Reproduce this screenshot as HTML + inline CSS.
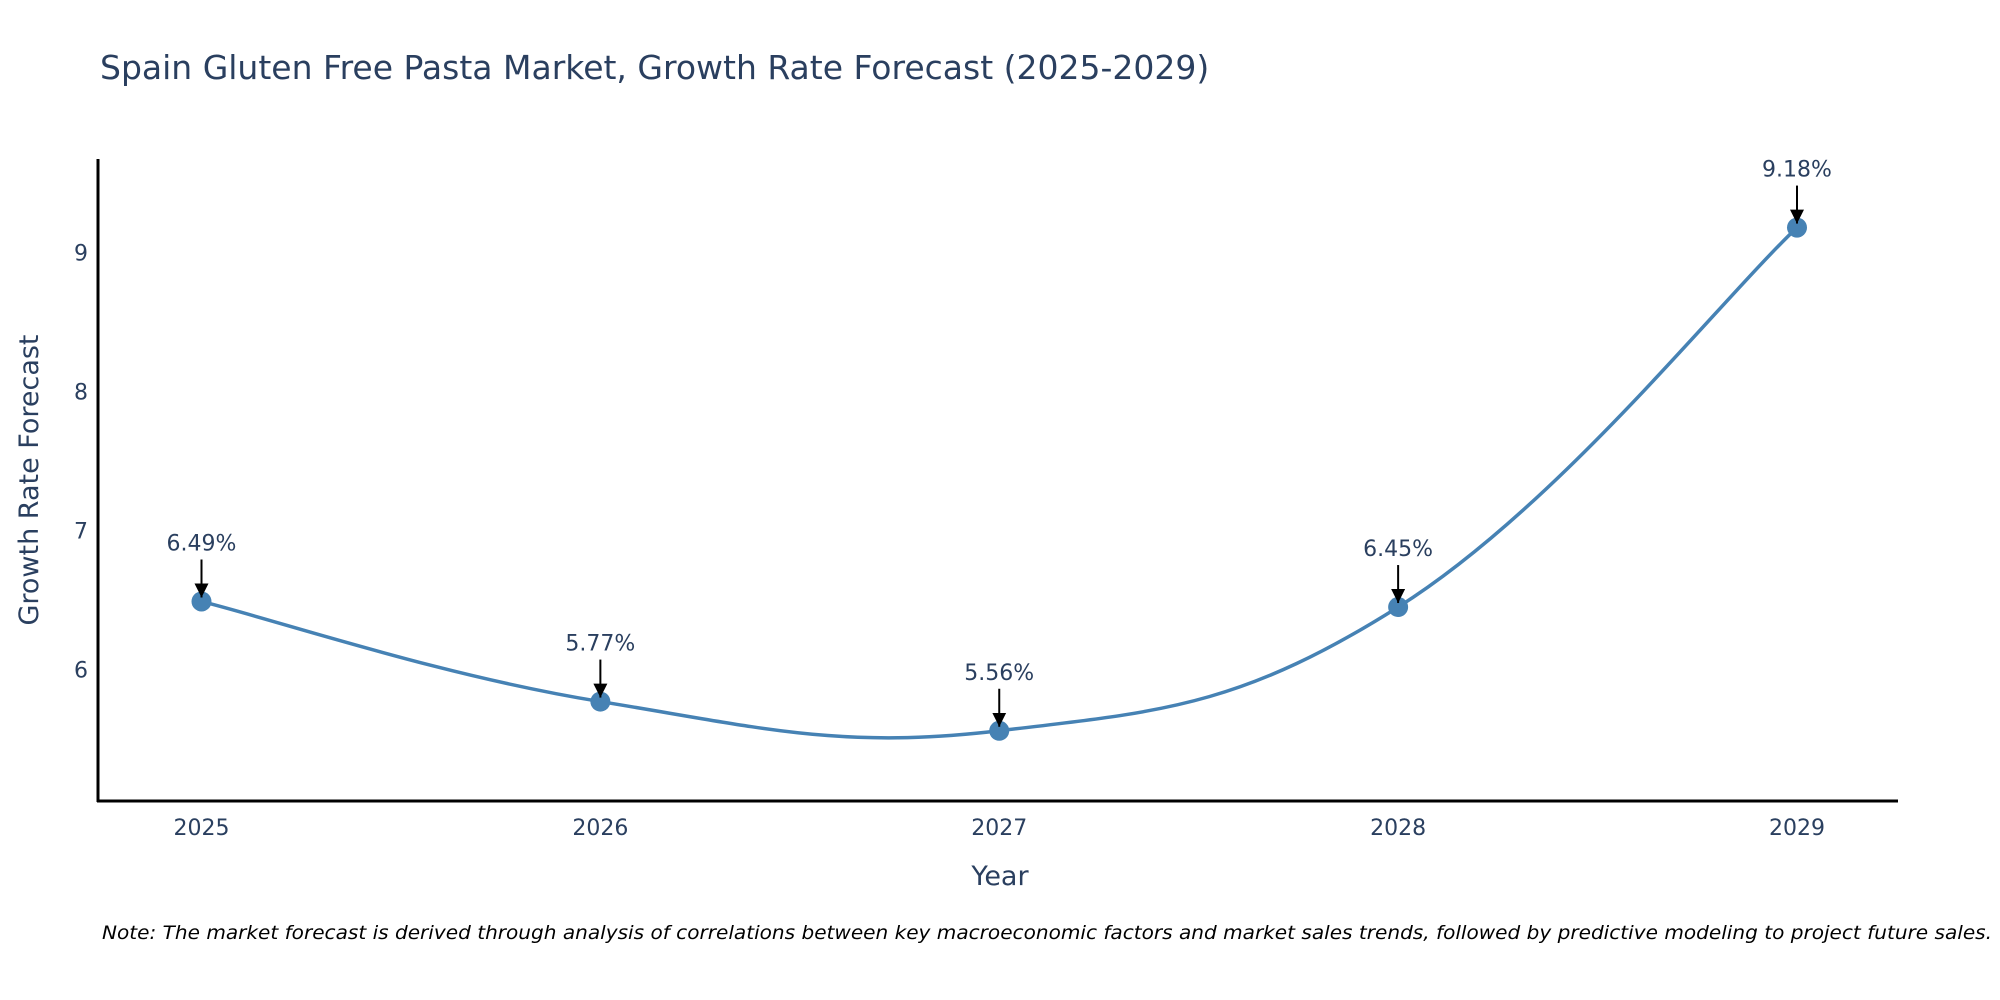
<!DOCTYPE html>
<html><head><meta charset="utf-8"><style>
html,body{margin:0;padding:0;background:#fff;}
svg{display:block;font-family:"DejaVu Sans","Liberation Sans",sans-serif;}
</style></head><body>
<svg id="chart" width="2000" height="1000" viewBox="0 0 2000 1000" xmlns="http://www.w3.org/2000/svg">
<defs><marker id="ah" markerWidth="14" markerHeight="14" refX="14" refY="7" orient="auto" markerUnits="userSpaceOnUse" viewBox="0 0 14 14"><path d="M0,0 L14,7 L0,14 z" fill="#000"/></marker></defs>
<text x="100" y="79" font-size="33" fill="#2a3f5f">Spain Gluten Free Pasta Market, Growth Rate Forecast (2025-2029)</text>
<g id="plot"></g>
<line x1="98" y1="159" x2="98" y2="802" stroke="#000" stroke-width="3"/>
<line x1="97" y1="801" x2="1898" y2="801" stroke="#000" stroke-width="3"/>
<text transform="translate(38,480) rotate(-90)" text-anchor="middle" font-size="27" fill="#2a3f5f">Growth Rate Forecast</text>
<text x="1000" y="885" text-anchor="middle" font-size="27" fill="#2a3f5f">Year</text>
<text x="1992" y="939" text-anchor="end" font-size="19" font-style="italic" fill="#000" textLength="1890" lengthAdjust="spacingAndGlyphs">Note: The market forecast is derived through analysis of correlations between key macroeconomic factors and market sales trends, followed by predictive modeling to project future sales.</text>
</svg>
<script>
const years = [2025, 2026, 2027, 2028, 2029];
const growth = [6.49, 5.77, 5.56, 6.45, 9.18];
const labels = ["6.49%", "5.77%", "5.56%", "6.45%", "9.18%"];
const yTicks = [6, 7, 8, 9];

const NS = "http://www.w3.org/2000/svg";
const g = document.getElementById('plot');
function xs(v){ return 201.5 + (v - 2025) * (1797 - 201.5) / 4; }
function ys(v){ return 669.6 - (v - 6) * 139; }
function mk(tag, attrs){ const e = document.createElementNS(NS, tag); for (const k in attrs) e.setAttribute(k, attrs[k]); g.appendChild(e); return e; }

yTicks.forEach(t => {
  const e = mk('text', {x: 88, y: ys(t) + 8, 'text-anchor': 'end', 'font-size': 22, fill: '#2a3f5f'});
  
  
  e.textContent = t;
});
years.forEach(yr => {
  const e = mk('text', {x: xs(yr), y: 835, 'text-anchor': 'middle', 'font-size': 22, fill: '#2a3f5f'});
  
  
  e.textContent = yr;
});

const pts = years.map((yr, i) => [xs(yr), ys(growth[i])]);
let d = `M${pts[0][0]},${pts[0][1]}`;
for (let i = 0; i < pts.length - 1; i++) {
  const p0 = pts[Math.max(0, i - 1)], p1 = pts[i], p2 = pts[i + 1], p3 = pts[Math.min(pts.length - 1, i + 2)];
  const k = 0.2;
  const c1 = [p1[0] + (p2[0] - p0[0]) * k, p1[1] + (p2[1] - p0[1]) * k];
  const c2 = [p2[0] - (p3[0] - p1[0]) * k, p2[1] - (p3[1] - p1[1]) * k];
  d += ` C${c1[0]},${c1[1]} ${c2[0]},${c2[1]} ${p2[0]},${p2[1]}`;
}
const line = mk('path', {d: d, fill: 'none', stroke: '#4682b4', 'stroke-width': 3.5});



pts.forEach((p, i) => {
  const c = mk('circle', {cx: p[0], cy: p[1], r: 10, fill: '#4682b4'});
  
  
  const a = mk('line', {x1: p[0], y1: p[1] - 42, x2: p[0], y2: p[1] - 4, stroke: '#000', 'stroke-width': 2, 'marker-end': 'url(#ah)'});
  
  
  const t = mk('text', {x: p[0], y: p[1] - 51, 'text-anchor': 'middle', 'font-size': 22, fill: '#2a3f5f'});
  
  
  t.textContent = labels[i];
});
</script>
</body></html>
